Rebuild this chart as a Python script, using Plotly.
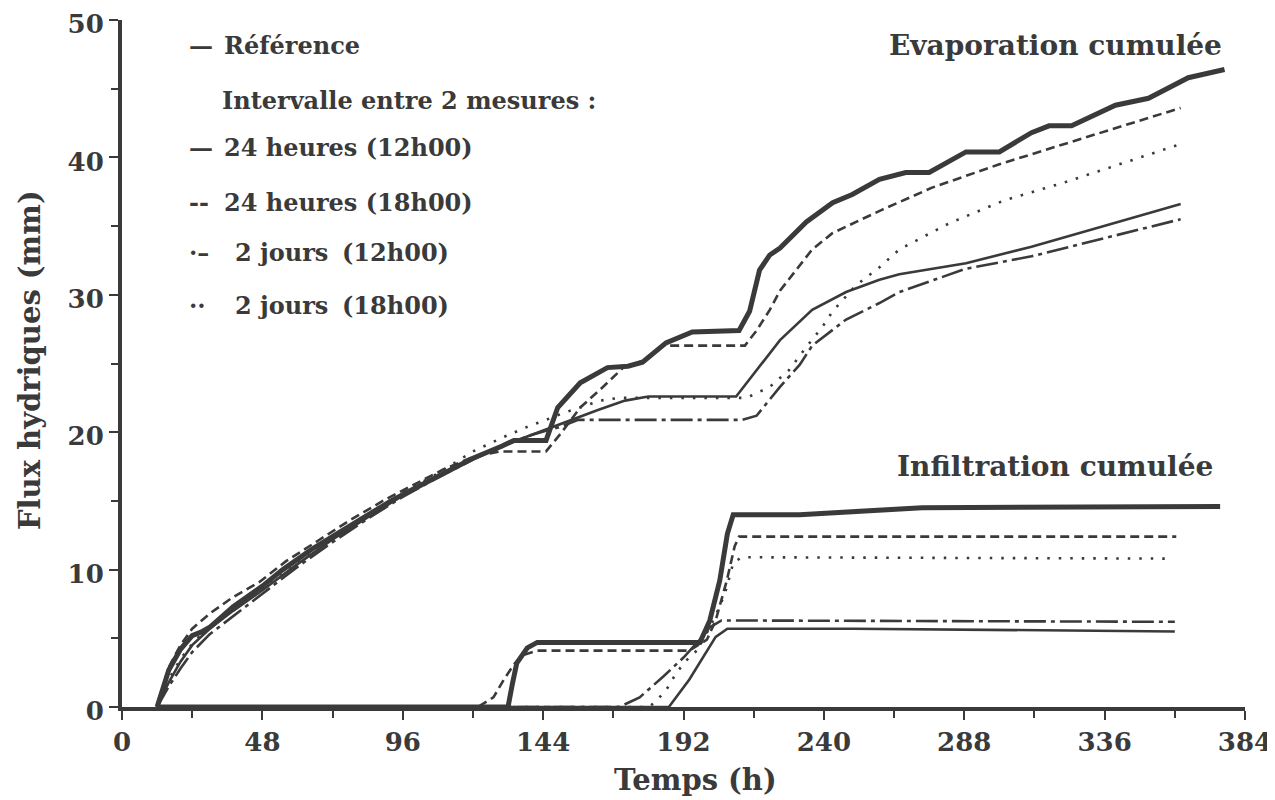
import plotly.graph_objects as go

# ---------------- data (time in hours, cumulative flux in mm) ----------------
# Evaporation cumulée
t_evap_ref = [12, 16, 20, 24, 27, 30, 38, 48, 55, 65, 75, 84, 92, 100, 110, 120, 130, 134, 145,
              149, 156.7, 166, 173, 178, 186, 195, 211, 214.6, 218, 221.5, 225, 234, 243, 249.7,
              259, 268, 276, 288.6, 300, 311, 317, 324.7, 339.7, 351, 364.6, 377]
y_evap_ref = [0, 2.7, 4.2, 5.2, 5.45, 5.8, 7.3, 8.8, 10.0, 11.5, 12.8, 14.0, 15.0, 15.9, 17.0, 18.1, 19.0, 19.4, 19.4,
              21.8, 23.6, 24.7, 24.8, 25.1, 26.5, 27.3, 27.4, 28.8, 31.8, 32.9, 33.4, 35.3, 36.7, 37.3,
              38.4, 38.9, 38.9, 40.4, 40.4, 41.8, 42.3, 42.3, 43.8, 44.3, 45.8, 46.4]

t_evap_24h_12 = [12, 16, 20, 24, 30, 38, 48, 60, 72, 84, 96, 108, 120, 130, 140, 146, 156.7, 162.5, 172, 180,
                 210, 217, 225, 236, 247.6, 259, 265.8, 288.6, 311, 334, 362]
y_evap_24h_12 = [0, 1.8, 3.3, 4.5, 5.7, 7.0, 8.5, 10.4, 12.2, 13.8, 15.4, 16.8, 18.1, 19.0, 19.8, 20.3, 21.1, 21.6, 22.3, 22.6,
                 22.6, 24.5, 26.7, 28.9, 30.2, 31.1, 31.5, 32.3, 33.5, 34.9, 36.6]

t_evap_24h_18 = [12, 16, 20, 24, 30, 38, 47, 56, 67, 78, 90, 100, 110, 120, 129, 145, 150, 156.7, 163.5, 171.4,
                 178, 185, 213, 217, 221.5, 225, 230.6, 236, 243, 252, 260, 277, 300, 322.6, 345, 362]
y_evap_24h_18 = [0, 2.9, 4.5, 5.7, 6.8, 8.0, 9.1, 10.6, 12.1, 13.6, 15.1, 16.2, 17.3, 18.2, 18.6, 18.6, 19.9, 21.8, 23.1, 24.7,
                 25.2, 26.3, 26.3, 27.4, 28.9, 30.3, 31.8, 33.3, 34.5, 35.4, 36.2, 37.8, 39.5, 41.0, 42.5, 43.6]

t_evap_2j_12 = [12, 16, 20, 24, 30, 38, 48, 60, 72, 84, 96, 108, 120, 130, 140, 150, 156, 212, 217, 225,
                231.7, 236, 247.6, 259, 265.8, 288.6, 311, 334, 362]
y_evap_2j_12 = [0, 1.5, 2.8, 4.0, 5.3, 6.6, 8.2, 10.2, 12.0, 13.7, 15.3, 16.7, 18.0, 19.0, 19.8, 20.4, 20.9, 20.9, 21.2, 23.3,
                24.9, 26.3, 28.2, 29.4, 30.2, 31.9, 32.8, 34.0, 35.5]

t_evap_2j_18 = [12, 16, 20, 24, 30, 38, 48, 60, 72, 84, 96, 108, 120, 130, 138.7, 145, 151, 156.7, 163.5, 170,
                213.6, 221.5, 228, 234, 239.6, 243, 251, 259, 265.8, 282.8, 302, 322.6, 345, 361]
y_evap_2j_18 = [0, 2.0, 3.5, 4.6, 5.9, 7.3, 8.7, 10.6, 12.4, 14.0, 15.6, 17.0, 18.6, 19.6, 20.4, 20.9, 21.4, 21.8, 22.3, 22.5,
                22.5, 23.3, 24.5, 26.2, 27.7, 28.8, 30.7, 32.0, 33.3, 35.2, 36.9, 38.2, 39.8, 40.9]

# Infiltration cumulée
t_inf_ref = [12, 132, 133.5, 135, 138.6, 142, 197.6, 201, 204.4, 207, 209, 231.7, 273.6, 345, 375.5]
y_inf_ref = [0, 0, 1.7, 3.2, 4.3, 4.7, 4.7, 6.3, 9.2, 12.6, 14.0, 14.0, 14.5, 14.6, 14.6]

t_inf_24h_12 = [12, 187, 194, 198.6, 203, 207, 250, 360]
y_inf_24h_12 = [0, 0, 2.0, 3.6, 5.1, 5.7, 5.7, 5.5]

t_inf_24h_18 = [12, 121.6, 127, 130.6, 134, 137.4, 142, 194, 200, 203, 206.8, 209.5, 211, 360.5]
y_inf_24h_18 = [0, 0, 0.7, 2.0, 3.1, 3.8, 4.1, 4.1, 4.9, 6.3, 9.2, 11.7, 12.4, 12.4]

t_inf_2j_12 = [12, 170, 177, 185, 192, 197.6, 201, 205, 360]
y_inf_2j_12 = [0, 0, 0.7, 2.2, 3.6, 4.9, 5.8, 6.3, 6.2]

t_inf_2j_18 = [12, 180, 182, 186, 189.6, 193, 196.5, 200, 204.4, 206.8, 209, 212, 356.7]
y_inf_2j_18 = [0, 0, 0.3, 1.2, 2.5, 3.4, 4.1, 5.4, 7.3, 8.7, 10.5, 10.9, 10.8]

x_tick_vals = [0, 48, 96, 144, 192, 240, 288, 336, 384]
y_tick_vals = [0, 10, 20, 30, 40, 50]

# ---------------- styling ----------------
INK = "#3a3a3a"
FONT = "DejaVu Serif"
W, H = 1275, 800
PAGE_OFF = 8                      # body margin of the html page
PL, PR, PT, PB = 122, 1245, 20, 707   # plot area in page pixels

styles = {
    "ref": dict(color=INK, width=5, dash="solid"),
    "24h_12": dict(color=INK, width=2.6, dash="solid"),
    "24h_18": dict(color=INK, width=2.6, dash="9px,5px"),
    "2j_12": dict(color=INK, width=2.6, dash="22px,5px,4px,5px"),
    "2j_18": dict(color=INK, width=2.6, dash="2.5px,9px"),
}

series = [
    (t_evap_2j_18, y_evap_2j_18, "2j_18"),
    (t_evap_2j_12, y_evap_2j_12, "2j_12"),
    (t_evap_24h_18, y_evap_24h_18, "24h_18"),
    (t_evap_24h_12, y_evap_24h_12, "24h_12"),
    (t_evap_ref, y_evap_ref, "ref"),
    (t_inf_2j_18, y_inf_2j_18, "2j_18"),
    (t_inf_2j_12, y_inf_2j_12, "2j_12"),
    (t_inf_24h_18, y_inf_24h_18, "24h_18"),
    (t_inf_24h_12, y_inf_24h_12, "24h_12"),
    (t_inf_ref, y_inf_ref, "ref"),
]

fig = go.Figure()
for t, y, key in series:
    fig.add_trace(go.Scatter(x=t, y=y, mode="lines", line=styles[key], showlegend=False,
                             hoverinfo="skip"))


def px(xp):
    return (xp - PL) / (PR - PL)


def py(yp):
    return (PB - yp) / (PB - PT)


annotations = []


def txt(text, x, y, size, xanchor="left", bold=False, angle=0):
    annotations.append(dict(
        text=f"<b>{text}</b>" if bold else text,
        x=px(x), y=py(y), xref="paper", yref="paper",
        xanchor=xanchor, yanchor="middle", showarrow=False, textangle=angle,
        font=dict(family=FONT, size=size, color=INK)))


LS = 24
# legend block
txt("—", 187, 45, LS, bold=True)
txt("Référence", 222, 45, LS, bold=True)
txt("Intervalle entre 2 mesures :", 220, 100, LS, bold=True)
txt("—", 187, 148, LS, bold=True)
txt("24 heures (12h00)", 222, 148, LS, bold=True)
txt("--", 187, 202, LS, bold=True)
txt("24 heures (18h00)", 222, 202, LS, bold=True)
txt("·–", 187, 253, LS, bold=True)
txt("2 jours", 233, 253, LS, bold=True)
txt("(12h00)", 451, 253, LS, xanchor="right", bold=True)
txt("··", 187, 305, LS, bold=True)
txt("2 jours", 233, 305, LS, bold=True)
txt("(18h00)", 451, 305, LS, xanchor="right", bold=True)

# curve group labels
txt("Evaporation cumulée", 1224, 45, 28, xanchor="right", bold=True)
txt("Infiltration cumulée", 1215, 466, 28, xanchor="right", bold=True)

# axis titles
txt("Temps (h)", 695, 780, 29, xanchor="center", bold=True)
txt("Flux hydriques (mm)", 30, 360, 29, xanchor="center", bold=True, angle=-90)

axis_common = dict(
    ticks="outside", ticklen=9, tickwidth=2, tickcolor=INK, automargin=False,
    ticklabeloverflow="allow",
    showline=True, linewidth=4, linecolor=INK, showgrid=False, zeroline=False,
    tickfont=dict(family=FONT, size=26, color=INK),
)

fig.update_layout(
    width=W, height=H, autosize=False,
    margin=dict(l=PL - PAGE_OFF, r=W - (PR - PAGE_OFF), t=PT - PAGE_OFF, b=H - (PB - PAGE_OFF), pad=0),
    paper_bgcolor="white", plot_bgcolor="white",
    annotations=annotations,
    xaxis=dict(range=[0, 384], tickvals=x_tick_vals, ticktext=[f"<b>{v}</b>" for v in x_tick_vals],
               minor=dict(dtick=24, tick0=0, ticks="outside", ticklen=7, tickwidth=2, tickcolor=INK),
               **axis_common),
    yaxis=dict(range=[0, 50], tickvals=y_tick_vals, ticktext=[f"<b>{v}</b>" for v in y_tick_vals],
               ticklabelshift=4,
               minor=dict(dtick=5, tick0=0, ticks="outside", ticklen=7, tickwidth=2, tickcolor=INK),
               **axis_common),
)

fig.write_html("out.html")
